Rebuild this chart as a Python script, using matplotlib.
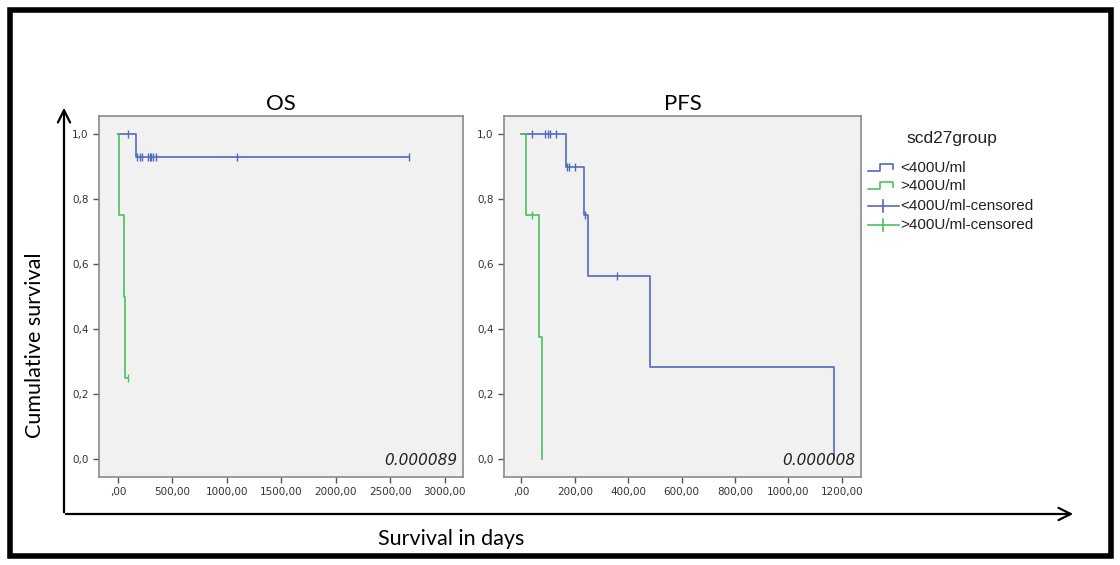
import matplotlib
matplotlib.use("Agg")
import matplotlib.pyplot as plt
from matplotlib.lines import Line2D

# ---- data ----
os_low_t = [0, 166, 2677]
os_low_s = [1.0, 0.928, 0.928]
os_low_cens_t = [92, 170, 206, 224, 276, 291, 307, 322, 353, 1089, 2677]
os_low_cens_s = [1.0, 0.928, 0.928, 0.928, 0.928, 0.928, 0.928, 0.928, 0.928, 0.928, 0.928]

os_high_t = [0, 10, 52, 68, 92]
os_high_s = [1.0, 0.75, 0.5, 0.25, 0.25]
os_high_cens_t = [92]
os_high_cens_s = [0.25]

pfs_low_t = [0, 168, 235, 250, 481, 1172]
pfs_low_s = [1.0, 0.9, 0.75, 0.5625, 0.28125, 0.0]
pfs_low_cens_t = [41, 87, 100, 106, 128, 171, 177, 200, 237, 360]
pfs_low_cens_s = [1.0, 1.0, 1.0, 1.0, 1.0, 0.9, 0.9, 0.9, 0.75, 0.5625]

pfs_high_t = [0, 16, 66, 79]
pfs_high_s = [1.0, 0.75, 0.375, 0.0]
pfs_high_cens_t = [41]
pfs_high_cens_s = [0.75]

os_xticks = [0, 500, 1000, 1500, 2000, 2500, 3000]
pfs_xticks = [0, 200, 400, 600, 800, 1000, 1200]
yticks = [0.0, 0.2, 0.4, 0.6, 0.8, 1.0]
group_labels = ["<400U/ml", ">400U/ml", "<400U/ml-censored", ">400U/ml-censored"]
p_values = ["0.000089", "0.000008"]

BLUE = "#5468c0"
GREEN = "#4cc25e"
W, H = 1120, 565


def fmt_x(v):
    s = f"{v:.2f}".replace(".", ",")
    return s[1:] if v == 0 else s


def km_panel(ax, low, high, xlim, ylim, xticks, title, pval):
    ax.set_facecolor("#f0f1f0")
    for t, s, ct, cs, c in [low, high]:
        ax.step(t, s, where="post", color=c, lw=1.2)
        ax.plot(ct, cs, ls="none", marker="|", ms=6, mew=1.0, color=c)
    ax.set_xlim(*xlim)
    ax.set_ylim(*ylim)
    ax.set_xticks(xticks)
    ax.set_xticklabels([fmt_x(v) for v in xticks])
    ax.set_yticks(yticks)
    ax.set_yticklabels([f"{v:.1f}".replace(".", ",") for v in yticks])
    ax.tick_params(labelsize=7.5, labelcolor="#333333", color="#555555",
                   length=4, width=1, direction="out", top=False, right=False)
    for sp in ax.spines.values():
        sp.set_color("#8a8a8a")
        sp.set_linewidth(1.2)
    ax.set_title(title, family="Lato", fontsize=16, pad=4)
    ax.text(0.985, 0.025, pval, transform=ax.transAxes, ha="right", va="bottom",
            style="italic", fontsize=11, color="#222222")


fig = plt.figure(figsize=(W / 100, H / 100), dpi=100)

ax_os = fig.add_axes([99 / W, (H - 477) / H, 364 / W, 361 / H])
km_panel(ax_os,
         (os_low_t, os_low_s, os_low_cens_t, os_low_cens_s, BLUE),
         (os_high_t, os_high_s, os_high_cens_t, os_high_cens_s, GREEN),
         (-175, 3170), (-0.055, 1.055), os_xticks, "OS", p_values[0])

ax_pfs = fig.add_axes([504 / W, (H - 477) / H, 357 / W, 361 / H])
km_panel(ax_pfs,
         (pfs_low_t, pfs_low_s, pfs_low_cens_t, pfs_low_cens_s, BLUE),
         (pfs_high_t, pfs_high_s, pfs_high_cens_t, pfs_high_cens_s, GREEN),
         (-65, 1272), (-0.057, 1.057), pfs_xticks, "PFS", p_values[1])

# overlay in pixel coordinates for frame, arrows, labels and legend
ov = fig.add_axes([0, 0, 1, 1], zorder=5)
ov.set_xlim(0, W)
ov.set_ylim(H, 0)
ov.axis("off")
ov.patch.set_alpha(0)

ov.add_patch(plt.Rectangle((10, 10), W - 19, H - 19, fill=False, lw=4, ec="black"))
arrow = dict(arrowstyle="->", lw=1.6, color="black", mutation_scale=22)
ov.annotate("", xy=(64, 105), xytext=(64, 515), arrowprops=arrow)
ov.annotate("", xy=(1076, 514), xytext=(63, 514), arrowprops=arrow)
ov.text(35, 345, "Cumulative survival", rotation=90, ha="center", va="center",
        family="Lato", fontsize=15.5)
ov.text(451, 539, "Survival in days", ha="center", va="center",
        family="Lato", fontsize=15.5)

# legend
ov.text(952, 138, "scd27group", ha="center", va="center",
        family="Liberation Sans", fontsize=12.5, color="#222222")
rows = [168, 186, 206, 225]
for i, (lab, y) in enumerate(zip(group_labels, rows)):
    c = BLUE if i % 2 == 0 else GREEN
    if i < 2:
        ov.add_line(Line2D([868, 880, 880, 893, 893], [y + 3, y + 3, y - 4, y - 4, y + 1],
                           color=c, lw=1.2))
    else:
        ov.add_line(Line2D([868, 899], [y, y], color=c, lw=1.2))
        ov.add_line(Line2D([883, 883], [y - 6, y + 6], color=c, lw=1.2))
    ov.text(900, y, lab, ha="left", va="center", family="Liberation Sans",
            fontsize=11, color="#222222")

fig.savefig("out.png", dpi=100, facecolor="white")
